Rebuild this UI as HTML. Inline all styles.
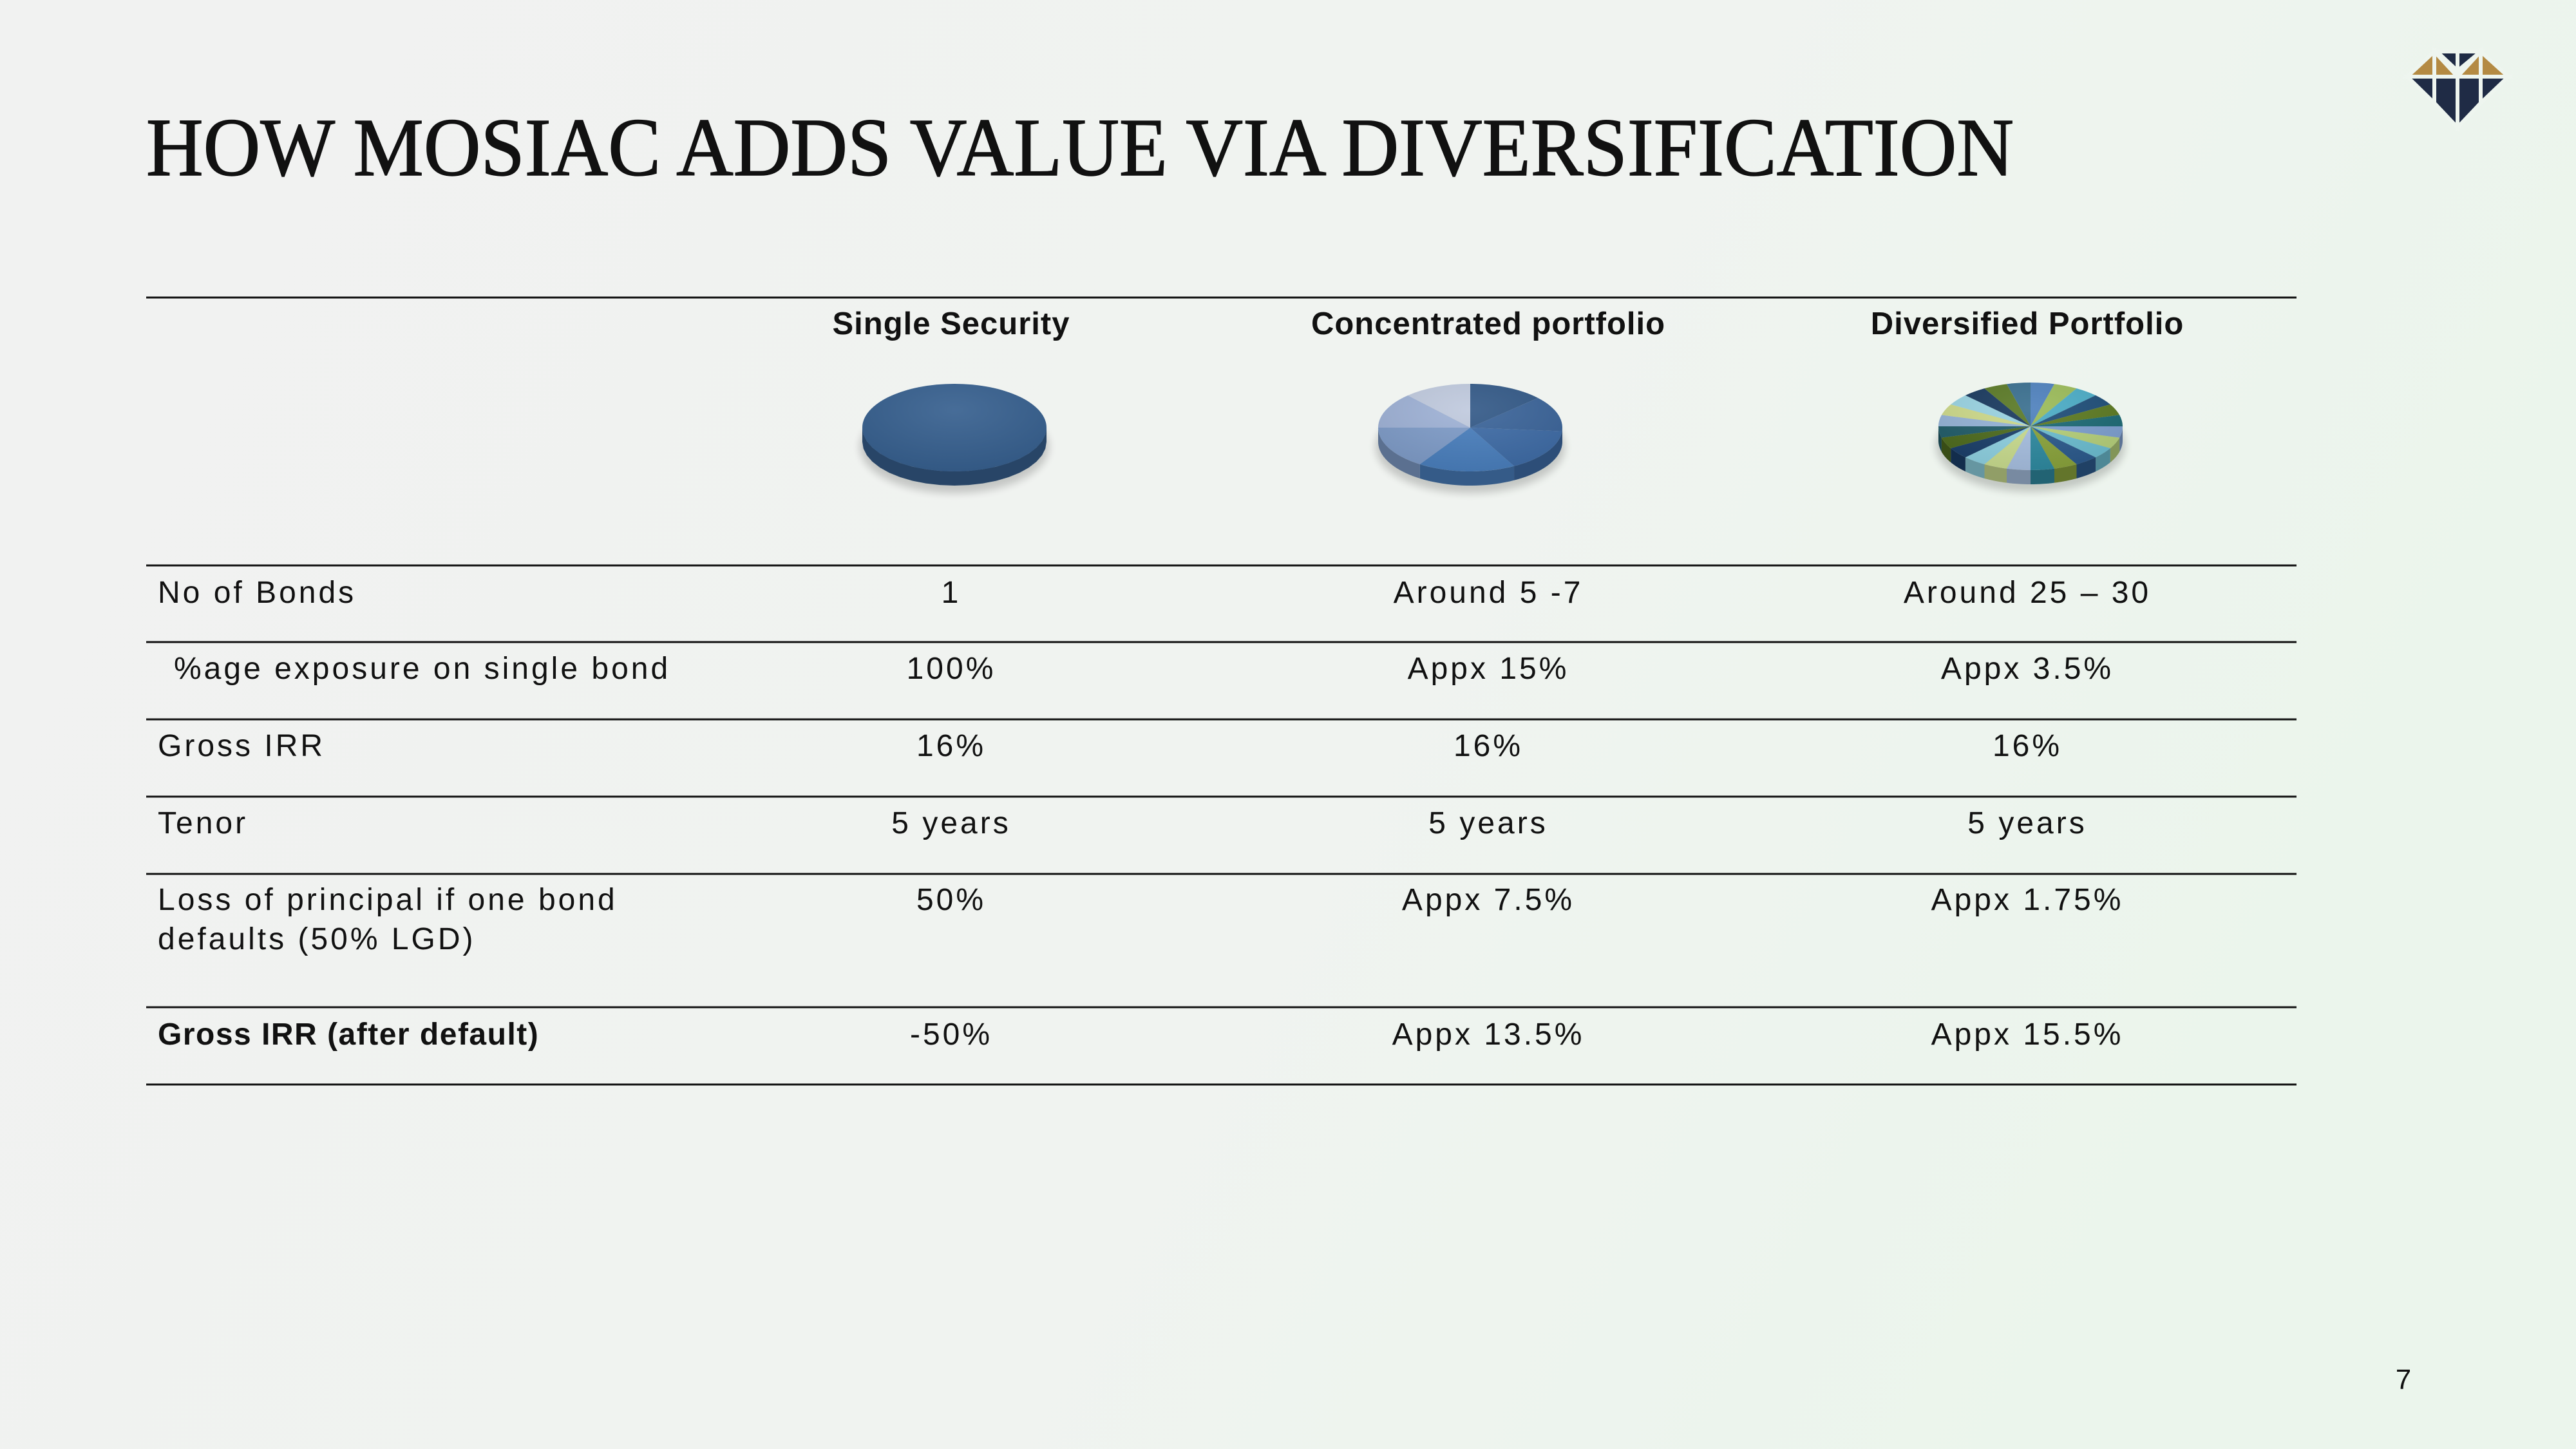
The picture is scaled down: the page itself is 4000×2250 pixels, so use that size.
<!DOCTYPE html>
<html><head><meta charset="utf-8">
<style>
html,body{margin:0;padding:0;width:4000px;height:2250px;overflow:hidden}
svg{display:block}
text{font-family:"Liberation Sans",sans-serif;fill:#111}
</style></head>
<body>
<svg id="slide" width="4000" height="2250" viewBox="0 0 4000 2250" xmlns="http://www.w3.org/2000/svg">
<defs>
<linearGradient id="bg" x1="0" y1="0" x2="1" y2="0.3">
<stop offset="0" stop-color="#f1f2f1"/><stop offset="0.6" stop-color="#f0f3f0"/><stop offset="1" stop-color="#ebf5ec"/>
</linearGradient>
<radialGradient id="shine" cx="0.5" cy="0.3" r="0.7">
<stop offset="0" stop-color="#fff" stop-opacity="0.08"/><stop offset="1" stop-color="#000" stop-opacity="0.08"/>
</radialGradient>
<filter id="shadow" x="-20%" y="-20%" width="140%" height="160%"><feGaussianBlur stdDeviation="6"/></filter>
</defs>
<rect width="4000" height="2250" fill="url(#bg)"/>
<text x="227" y="272" font-size="128" textLength="2900" lengthAdjust="spacingAndGlyphs" style="font-family:'Liberation Serif',serif;stroke:#111;stroke-width:1.5">HOW MOSIAC ADDS VALUE VIA DIVERSIFICATION</text>
<g stroke="#eef5ef" stroke-width="6">
<polygon points="3738,119 3780,80 3780,119" fill="#b48a43"/>
<polygon points="3780,80 3816,119 3780,119" fill="#b48a43"/>
<polygon points="3784,80 3816,80 3816,110" fill="#1f2b45"/>
<polygon points="3816,80 3852,80 3816,110" fill="#1f2b45"/>
<polygon points="3816,119 3852,80 3852,119" fill="#b48a43"/>
<polygon points="3852,80 3895,119 3852,119" fill="#b48a43"/>
<polygon points="3738,119 3780,119 3780,160" fill="#1f2b45"/>
<polygon points="3780,119 3816,119 3816,198 3780,160" fill="#1f2b45"/>
<polygon points="3816,119 3852,119 3852,160 3816,198" fill="#1f2b45"/>
<polygon points="3852,119 3895,119 3852,160" fill="#1f2b45"/>
</g>
<g id="table"></g>
<g id="pies"></g>
<text x="3732" y="2157" font-size="44" text-anchor="middle">7</text>
</svg>
<script>
const columns = ["Single Security","Concentrated portfolio","Diversified Portfolio"];
const rowLabels = [["No of Bonds"],["%age exposure on single bond"],["Gross IRR"],["Tenor"],["Loss of principal if one bond","defaults (50% LGD)"],["Gross IRR (after default)"]];
const singleValues = ["1","100%","16%","5 years","50%","-50%"];
const concentratedValues = ["Around 5 -7","Appx 15%","16%","5 years","Appx 7.5%","Appx 13.5%"];
const diversifiedValues = ["Around 25 \u2013 30","Appx 3.5%","16%","5 years","Appx 1.75%","Appx 15.5%"];
const singleSlices = [1];
const concentratedSlices = [1,1,1.2,1.3,1.2,1,0.9];
const diversifiedSlices = [1,1,1,1,1,1,1,1,1,1,1,1,1,1,1,1,1,1,1,1,1,1,1,1];
const singleColors = ["#37608f"];
const concentratedColors = ["#345a88","#3c659a","#3f6ca6","#4a7fbd","#7f9cc8","#9fb2d6","#c0cade"];
const diversifiedColors = ["#4f81bd","#9bbb59","#4bacc6","#1f4e79","#5d7a22","#1d6a75","#7d9fcf","#b5cf7a","#6cbdd0","#2c5a8c","#8aa33c","#2f8aa0","#a7bfe0","#c9dc8f","#8ed0e0","#1b3f6a","#4e6b1e","#225d6a","#95b3d7","#cdd98a","#9ad3e2","#1a3a5f","#5b7a27","#3a6f8f"];

const NS="http://www.w3.org/2000/svg";
const table=document.getElementById('table');
const pies=document.getElementById('pies');
const X0=227,X1=3566, colX=[1477,2311,3148];
const lineY=[462,878,997,1117,1237,1357,1564,1684];
function mk(tag,attrs,parent){const e=document.createElementNS(NS,tag);for(const k in attrs)e.setAttribute(k,attrs[k]);parent.appendChild(e);return e;}
lineY.forEach((y,i)=>{
  const l=mk('line',{x1:X0,x2:X1,y1:y,y2:y,stroke:'#111','stroke-width':3},table);
  
  
});
columns.forEach((c,i)=>{
  const t=mk('text',{x:colX[i],y:519,'font-size':49,'text-anchor':'middle','font-weight':'bold','letter-spacing':1},table);
  t.textContent=c;
  
  
});
const rowBase=[936,1054,1174,1294,1413,1622];
const vals=[singleValues,concentratedValues,diversifiedValues];
rowLabels.forEach((lab,r)=>{
  lab.forEach((ln,k)=>{
    const t=mk('text',{x:(r===1?270:245),y:rowBase[r]+k*61,'font-size':48,'letter-spacing':(r===5?1.5:4)},table);
    if(r===5)t.setAttribute('font-weight','bold');
    t.textContent=ln;
    
    
  });
  vals.forEach((arr,c)=>{
    const t=mk('text',{x:colX[c],y:rowBase[r],'font-size':48,'text-anchor':'middle','letter-spacing':4},table);
    t.textContent=arr[r];
    
    
  });
});
function shade(hex,f){const n=parseInt(hex.slice(1),16);let r=n>>16,g=(n>>8)&255,b=n&255;r=Math.round(r*f);g=Math.round(g*f);b=Math.round(b*f);return `rgb(${r},${g},${b})`;}
function drawPie(cx,cy,slices,colors,name){
  const g=mk('g',{},pies);
  
  
  const rx=143,ry=68,th=22;
  mk('ellipse',{cx:cx,cy:cy+th+8,rx:rx+4,ry:ry+4,fill:'#000',opacity:0.18,filter:'url(#shadow)'},g);
  const tot=slices.reduce((a,b)=>a+b,0);
  let a=-Math.PI/2;
  const angs=slices.map(v=>{const s=a;a+=v/tot*2*Math.PI;return [s,a];});
  angs.forEach(([s,e],i)=>{
    const segs=[[s,e],[s-2*Math.PI,e-2*Math.PI],[s+2*Math.PI,e+2*Math.PI]];
    segs.forEach(([ss,ee])=>{
      const a0=Math.max(ss,0),a1=Math.min(ee,Math.PI);
      if(a1<=a0)return;
      const p=[];const N=20;
      for(let k=0;k<=N;k++){const t=a0+(a1-a0)*k/N;p.push([cx+rx*Math.cos(t),cy+ry*Math.sin(t)]);}
      for(let k=N;k>=0;k--){const t=a0+(a1-a0)*k/N;p.push([cx+rx*Math.cos(t),cy+ry*Math.sin(t)+th]);}
      const w=mk('path',{d:'M'+p.map(q=>q.join(',')).join('L')+'Z',fill:shade(colors[i%colors.length],0.72)},g);
      
      
    });
  });
  angs.forEach(([s,e],i)=>{
    if(slices.length===1){
      const el=mk('ellipse',{cx:cx,cy:cy,rx:rx,ry:ry,fill:colors[0]},g);
      
      
      return;}
    const p1=[cx+rx*Math.cos(s),cy+ry*Math.sin(s)],p2=[cx+rx*Math.cos(e),cy+ry*Math.sin(e)];
    const d=`M${cx},${cy}L${p1[0]},${p1[1]}A${rx},${ry} 0 ${e-s>Math.PI?1:0} 1 ${p2[0]},${p2[1]}Z`;
    const sl=mk('path',{d:d,fill:colors[i%colors.length]},g);
    
    
  });
  mk('ellipse',{cx:cx,cy:cy,rx:rx,ry:ry,fill:'url(#shine)'},g);
}
drawPie(1482,664,singleSlices,singleColors,'single-security-pie');
drawPie(2283,664,concentratedSlices,concentratedColors,'concentrated-portfolio-pie');
drawPie(3153,662,diversifiedSlices,diversifiedColors,'diversified-portfolio-pie');
</script>
</body></html>
